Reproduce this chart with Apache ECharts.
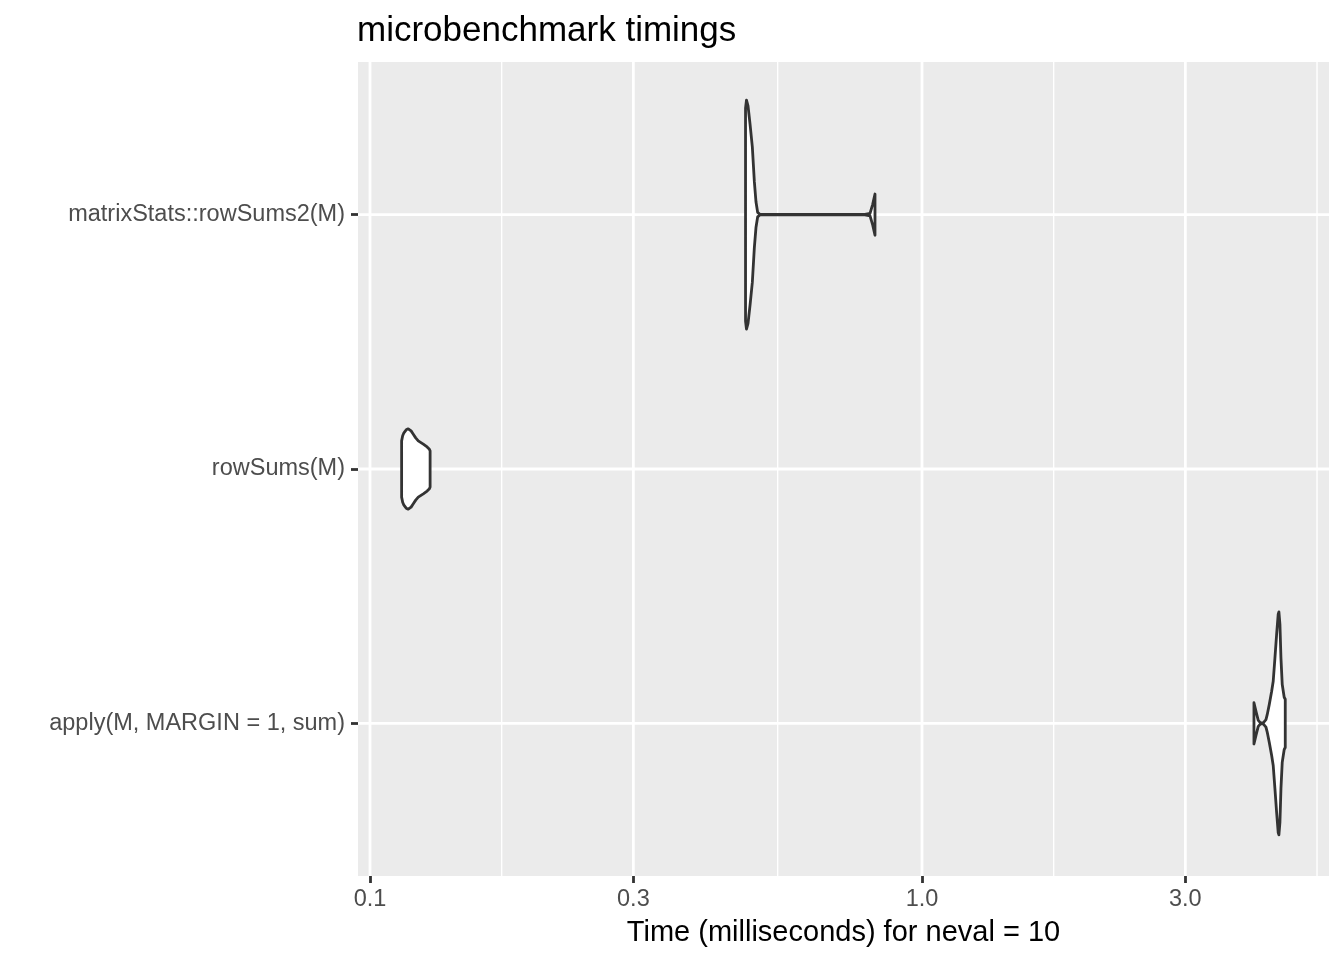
<!DOCTYPE html>
<html>
<head>
<meta charset="utf-8">
<script src="https://cdn.jsdelivr.net/npm/echarts@6/dist/echarts.min.js"></script>
<style>
  html, body { margin: 0; padding: 0; background: #ffffff; }
  #chart { width: 1344px; height: 960px; }
</style>
</head>
<body>
<div id="chart"></div>
<script>
// ---- data ----
const categories = ['apply(M, MARGIN = 1, sum)', 'rowSums(M)', 'matrixStats::rowSums2(M)'];

// violin outlines: time (ms) and scaled density (1 = widest violin)
const applyTimes   = [3.994, 4.028, 4.066, 4.107, 4.152, 4.199, 4.221, 4.257, 4.300, 4.328, 4.359, 4.390, 4.419, 4.432, 4.451, 4.470, 4.494, 4.531, 4.551];
const applyDensity = [0.180, 0.105, 0.026, 0.004, 0.004, 0.032, 0.076, 0.164, 0.281, 0.368, 0.570, 0.778, 0.954, 0.974, 0.866, 0.570, 0.339, 0.228, 0.211];

const rowSumsTimes   = [0.1141, 0.1146, 0.1152, 0.1163, 0.1173, 0.1187, 0.1198, 0.1210, 0.1223, 0.1249, 0.1269, 0.1280, 0.1285];
const rowSumsDensity = [0.246, 0.290, 0.316, 0.342, 0.351, 0.333, 0.304, 0.272, 0.246, 0.217, 0.193, 0.175, 0.158];

const rowSums2Times   = [0.4790, 0.4809, 0.4840, 0.4881, 0.4928, 0.4969, 0.5004, 0.5038, 0.5086, 0.6010, 0.7880, 0.8051, 0.8141, 0.8220];
const rowSums2Density = [0.930, 1.000, 0.950, 0.790, 0.590, 0.290, 0.110, 0.020, 0.003, 0.002, 0.002, 0.010, 0.090, 0.180];

// x axis (log10 scale) breaks
const xTickValues = [0.1, 0.3, 1, 3];
const xTickLabels = ['0.1', '0.3', '1.0', '3.0'];
const xMinorValues = [0.1732, 0.5477, 1.732, 5.196];
const xRange = [0.09512, 5.462];
const yRange = [0.4, 3.6];

const titleText = 'microbenchmark timings';
const xAxisTitle = 'Time (milliseconds) for neval = 10';

// ---- chart ----
const FONT = 'Liberation Sans, Arial, Helvetica, sans-serif';
const violins = [
  { pos: 1, t: applyTimes, w: applyDensity },
  { pos: 2, t: rowSumsTimes, w: rowSumsDensity },
  { pos: 3, t: rowSums2Times, w: rowSums2Density }
];
const L = Math.log10;

function vLineSeries(values, width, z) {
  return {
    type: 'custom', silent: true, z: z,
    data: values.map(v => [L(v), 2]),
    encode: { x: 0, y: 1 },
    renderItem: function (params, api) {
      const v = api.value(0);
      const p1 = api.coord([v, yRange[0]]);
      const p2 = api.coord([v, yRange[1]]);
      return { type: 'line', shape: { x1: p1[0], y1: p1[1], x2: p2[0], y2: p2[1] },
               style: { stroke: '#ffffff', lineWidth: width } };
    }
  };
}
function hLineSeries(values, width, z) {
  return {
    type: 'custom', silent: true, z: z,
    data: values.map(v => [L(1), v]),
    encode: { x: 0, y: 1 },
    renderItem: function (params, api) {
      const v = api.value(1);
      const p1 = api.coord([L(xRange[0]), v]);
      const p2 = api.coord([L(xRange[1]), v]);
      return { type: 'line', shape: { x1: p1[0], y1: p1[1], x2: p2[0], y2: p2[1] },
               style: { stroke: '#ffffff', lineWidth: width } };
    }
  };
}

const chart = echarts.init(document.getElementById('chart'), null, { renderer: 'canvas' });
chart.setOption({
  animation: false,
  backgroundColor: '#ffffff',
  title: {
    text: titleText, left: 357, top: 14, padding: 0,
    textStyle: { fontFamily: FONT, fontSize: 35, fontWeight: 'normal', color: '#000000' }
  },
  grid: {
    left: 358, right: 15, top: 62, bottom: 84,
    show: true, backgroundColor: '#EBEBEB', borderWidth: 0
  },
  xAxis: {
    type: 'value', min: L(xRange[0]), max: L(xRange[1]),
    name: xAxisTitle, nameLocation: 'middle', nameGap: 42,
    nameTextStyle: { fontFamily: FONT, fontSize: 29, color: '#000000' },
    axisLine: { show: false, onZero: false },
    splitLine: { show: false },
    axisTick: { show: true, length: 7, customValues: xTickValues.map(L),
                lineStyle: { color: '#333333', width: 2.8 } },
    axisLabel: {
      customValues: xTickValues.map(L), margin: 12,
      fontFamily: FONT, fontSize: 23.5, color: '#4D4D4D',
      formatter: function (v) {
        let best = 0;
        xTickValues.forEach((t, i) => { if (Math.abs(L(t) - v) < Math.abs(L(xTickValues[best]) - v)) best = i; });
        return xTickLabels[best];
      }
    }
  },
  yAxis: {
    type: 'value', min: yRange[0], max: yRange[1],
    axisLine: { show: false, onZero: false },
    splitLine: { show: false },
    axisTick: { show: true, length: 7, customValues: [1, 2, 3],
                lineStyle: { color: '#333333', width: 2.8 } },
    axisLabel: {
      customValues: [1, 2, 3], margin: 13, padding: [5, 0, 0, 0],
      fontFamily: FONT, fontSize: 23.5, color: '#4D4D4D',
      formatter: function (v) { return categories[Math.round(v) - 1]; }
    }
  },
  series: [
    vLineSeries(xMinorValues, 1.4, 1),
    vLineSeries(xTickValues, 2.8, 2),
    hLineSeries([1, 2, 3], 2.8, 2),
    {
      type: 'custom', silent: true, z: 5,
      data: violins.map(v => [L(v.t[0]), v.pos]),
      encode: { x: 0, y: 1 },
      renderItem: function (params, api) {
        const v = violins[params.dataIndex];
        const half = 0.45;
        const pts = [];
        for (let i = 0; i < v.t.length; i++) pts.push(api.coord([L(v.t[i]), v.pos + v.w[i] * half]));
        for (let i = v.t.length - 1; i >= 0; i--) pts.push(api.coord([L(v.t[i]), v.pos - v.w[i] * half]));
        return { type: 'polygon', shape: { points: pts },
                 style: { fill: '#ffffff', stroke: '#333333', lineWidth: 2.8, lineJoin: 'round' } };
      }
    }
  ]
});
</script>
</body>
</html>
